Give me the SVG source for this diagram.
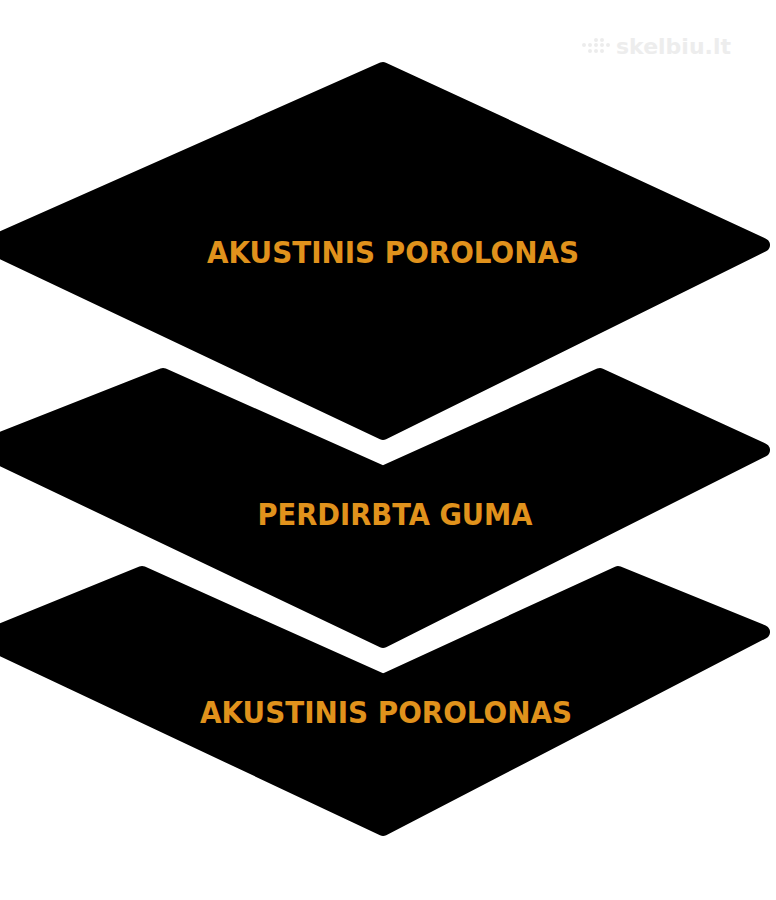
<svg xmlns="http://www.w3.org/2000/svg" width="776" height="900" viewBox="0 0 776 900">
<style>
.layer{fill:#000;stroke:#000;stroke-width:14;stroke-linejoin:round}
.lbl{font-family:"DejaVu Sans","Liberation Sans",sans-serif;font-weight:bold;font-size:30px;fill:#E0921C;text-anchor:middle}
.wm{font-family:"DejaVu Sans","Liberation Sans",sans-serif;font-weight:bold;font-size:22px;fill:#ededed}
</style>
<rect width="776" height="900" fill="#fff"/>
<g id="watermark">
<g fill="#ececec">
<circle cx="584" cy="45" r="2"/><circle cx="590" cy="45" r="2"/><circle cx="596" cy="40" r="2"/><circle cx="602" cy="40" r="2"/><circle cx="596" cy="45" r="2"/><circle cx="602" cy="45" r="2"/><circle cx="596" cy="51" r="2"/><circle cx="602" cy="51" r="2"/><circle cx="590" cy="51" r="2"/><circle cx="608" cy="45" r="2"/>
</g>
<text class="wm" x="616" y="54">skelbiu.lt</text>
</g>
<g id="layer-bottom">
<path class="layer" d="M142,573 L383,681 L618,573 L763,632 L383,829 L-20,639 Z"/>
<text class="lbl" x="386" y="723" textLength="372" lengthAdjust="spacingAndGlyphs">AKUSTINIS POROLONAS</text>
</g>
<g id="layer-middle">
<path class="layer" d="M163,375 L383,473 L600,375 L763,450 L383,641 L-22,448 Z"/>
<text class="lbl" x="395" y="525" textLength="275" lengthAdjust="spacingAndGlyphs">PERDIRBTA GUMA</text>
</g>
<g id="layer-top">
<path class="layer" d="M383,69 L763,245 L383,433 L-14,245 Z"/>
<text class="lbl" x="393" y="263" textLength="372" lengthAdjust="spacingAndGlyphs">AKUSTINIS POROLONAS</text>
</g>
<g id="connectors"/>
</svg>
